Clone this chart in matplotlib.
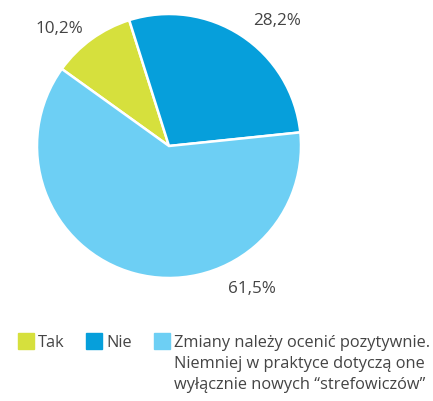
import matplotlib
matplotlib.use("Agg")
import matplotlib.pyplot as plt
from matplotlib.patches import Rectangle

# Daten
kategorien = ["Tak", "Nie",
              "Zmiany należy ocenić pozytywnie.\nNiemniej w praktyce dotyczą one\nwyłącznie nowych \u201cstrefowiczów\u201d"]
werte = [10.2, 28.2, 61.5]
farben = ["#d6e03d", "#069fdb", "#6dcff4"]

plt.rcParams['font.family'] = ['Open Sans', 'DejaVu Sans']

fig = plt.figure(figsize=(4.33, 4.01), dpi=100)
W, H = 433, 401
cx, cy, r = 169, 146, 132
ax = fig.add_axes(((cx - r) / W, (H - cy - r) / H, 2 * r / W, 2 * r / H))

ax.pie(werte, colors=farben, startangle=144.3, counterclock=False,
       wedgeprops={'edgecolor': 'white', 'linewidth': 1.8})
ax.set_xlim(-1, 1)
ax.set_ylim(-1, 1)
ax.axis('off')

# Prozent-Beschriftungen (Position in Achsenkoordinaten)
label_pos = [(-0.83, 0.89), (0.82, 0.95), (0.63, -1.085)]
for v, (lx, ly) in zip(werte, label_pos):
    ax.text(lx, ly, f"{v:.1f}".replace('.', ',') + '%', ha='center', va='center',
            fontsize=12.3, color='#444444', clip_on=False)

# Legende von Hand
leg_x = [18, 86, 154]
leg_y = 341
for x, lab, c in zip(leg_x, kategorien, farben):
    fig.patches.append(Rectangle((x / W, 1 - (leg_y + 8) / H), 16 / W, 16 / H,
                                 color=c, transform=fig.transFigure))
    zeilen = lab.split('\n')
    for i, z in enumerate(zeilen):
        fig.text((x + 20) / W, 1 - (leg_y + 6 + 21 * i) / H, z, ha='left', va='baseline',
                 fontsize=11.8, color='#444444')

plt.savefig('out.png', dpi=100)
